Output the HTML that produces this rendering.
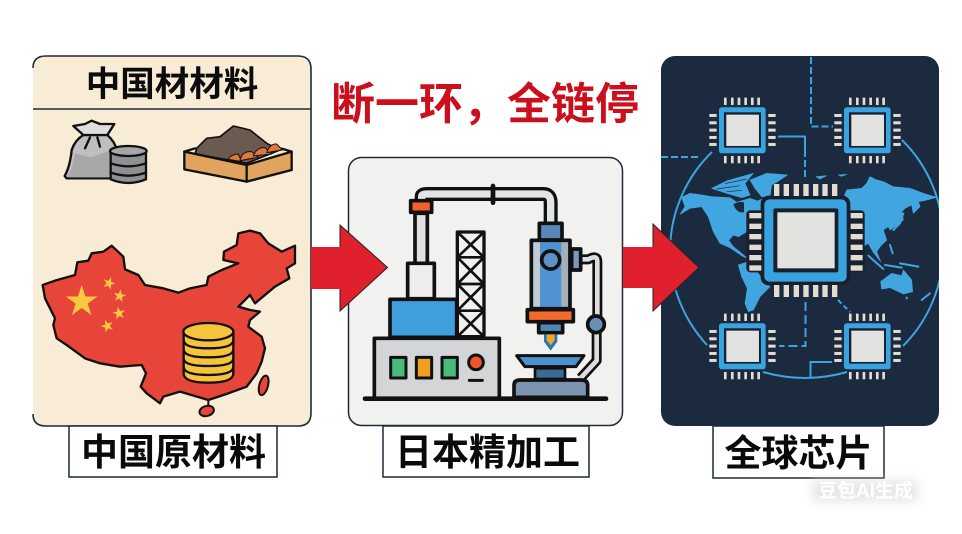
<!DOCTYPE html>
<html lang="zh"><head><meta charset="utf-8"><title>断一环,全链停</title>
<style>html,body{margin:0;padding:0;background:#fff}svg{display:block}
text{font-family:"Noto Sans CJK SC","Liberation Sans",sans-serif;font-weight:700;text-anchor:middle}
text.wm{font-family:"Liberation Sans","Noto Sans CJK SC",sans-serif}</style></head>
<body>
<svg xmlns="http://www.w3.org/2000/svg" width="962" height="534" viewBox="0 0 962 534">
<defs>
<clipPath id="p3"><rect x="661" y="56" width="278" height="370" rx="14"/></clipPath>
<filter id="soft" x="-30%" y="-60%" width="160%" height="220%"><feGaussianBlur stdDeviation="5"/></filter>
<polygon id="star" points="0,-1 .225,-.309 .951,-.309 .363,.118 .588,.809 0,.382 -.588,.809 -.363,.118 -.951,-.309 -.225,-.309"/>
<g id="chip">
<rect x="-70" y="-69" width="140" height="138" rx="8" fill="#39a3e0"/>
<rect x="-55" y="-54" width="111" height="106" fill="#16202e"/>
<rect x="-48" y="-47" width="98" height="94" fill="#e2e2e0"/>
<g fill="#e4ddcf">
<rect x="-55" y="-98" width="8" height="22"/><rect x="-34" y="-98" width="8" height="22"/><rect x="-14" y="-98" width="8" height="22"/><rect x="6" y="-98" width="8" height="22"/><rect x="26" y="-98" width="8" height="22"/><rect x="45" y="-98" width="8" height="22"/>
<rect x="-55" y="77" width="8" height="22"/><rect x="-34" y="77" width="8" height="22"/><rect x="-14" y="77" width="8" height="22"/><rect x="6" y="77" width="8" height="22"/><rect x="26" y="77" width="8" height="22"/><rect x="45" y="77" width="8" height="22"/>
<rect x="-99" y="-49" width="22" height="9"/><rect x="-99" y="-27" width="22" height="9"/><rect x="-99" y="-5" width="22" height="9"/><rect x="-99" y="17" width="22" height="9"/><rect x="-99" y="38" width="22" height="9"/>
<rect x="78" y="-49" width="22" height="9"/><rect x="78" y="-27" width="22" height="9"/><rect x="78" y="-5" width="22" height="9"/><rect x="78" y="17" width="22" height="9"/><rect x="78" y="38" width="22" height="9"/>
</g></g>
</defs>
<rect width="962" height="534" fill="#fff"/>

<!-- Panel 1 -->
<rect x="33" y="56" width="278" height="370" rx="13" fill="#f9ecd6"/>
<path d="M33,68 Q33,56 46,56 H298 Q311,56 311,69 V413 Q311,426 298,426 H46 Q33,426 33,414" fill="none" stroke="#1d2a3a" stroke-width="1.6"/>
<line x1="33" y1="109" x2="311" y2="109" stroke="#1d2a3a" stroke-width="1.6"/>
<text x="172" y="96" font-size="34.500" fill="#0c0c0c">中国材材料</text>

<g transform="translate(20,50) scale(.33333)" stroke="#111" stroke-width="7" stroke-linejoin="round" stroke-linecap="round">
<path d="M190,255 Q165,270 155,300 Q150,350 134,378 L140,385 H280 L290,300 Q285,275 262,255 Z" fill="#bfbfc2"/>
<path d="M165,310 L212,322 L275,300 L275,382 H142 Q160,350 165,310 Z" fill="#a8a8ab" stroke="none"/>
<path d="M160,228 L195,222 L215,212 L240,222 L283,222 L262,255 L190,255 Z" fill="#dedee0"/>
<path d="M195,295 L210,262 M240,290 L232,262" fill="none"/>
<path d="M272,303 V388 Q325,410 378,388 V303 Z" fill="#8f9092"/>
<ellipse cx="325" cy="303" rx="55" ry="15" fill="#a5a6a8"/>
<path d="M272,340 Q325,358 378,340 M272,368 Q325,386 378,368" fill="none"/>
<path d="M525,312 L530,295 L560,265 L600,260 L640,228 L690,240 L740,280 L780,300 L680,340 Z" fill="#6a5a50" stroke-width="5"/>
<g fill="#df7838" stroke-width="3">
<path d="M625,328 Q630,315 655,312 L665,335 Z"/>
<path d="M660,332 Q665,302 695,305 L715,322 Z"/>
<path d="M700,318 Q710,290 735,293 L755,312 Z"/>
<path d="M740,308 Q750,280 770,282 L787,300 Z"/>
</g>
<path d="M493,305 L680,345 V395 L493,358 Z" fill="#e0a45e"/>
<path d="M680,345 L815,305 V360 L680,395 Z" fill="#e0a45e"/>
<path d="M493,305 L525,295 M815,305 L785,296" fill="none"/>
</g>

<g transform="translate(20,230) scale(.33333)">
<path d="M68,165 L105,152 L165,135 L172,97 L205,92 L215,70 L250,65 L275,47 L310,80 L315,118 L355,135 L375,165 L430,175 L475,188 L510,175 L560,165 L565,140 L605,120 L655,100 L610,90 L612,65 L650,45 L655,10 L690,2 L720,10 L745,40 L785,65 L825,47 L825,100 L800,115 L808,145 L765,170 L705,220 L690,195 L655,230 L690,240 L720,245 L690,270 L685,290 L725,320 L735,355 L725,395 L710,430 L680,470 L625,490 L565,510 L480,485 L430,500 L420,520 L380,490 L362,470 L378,430 L365,405 L300,410 L240,400 L195,385 L140,345 L110,325 L100,285 L105,265 L75,205 Z" fill="#e8453a" stroke="#111" stroke-width="7" stroke-linejoin="round"/>
<ellipse cx="731" cy="466" rx="13" ry="30" transform="rotate(15 731 466)" fill="#e8453a" stroke="#111" stroke-width="6"/>
<ellipse cx="560" cy="543" rx="22" ry="15" transform="rotate(-15 560 543)" fill="#e8453a" stroke="#111" stroke-width="6"/>
<path d="M565,510 V525" stroke="#111" stroke-width="6"/>
<g fill="#f8c93c">
<use href="#star" transform="translate(185,215) scale(50)"/>
<use href="#star" transform="translate(267,160) rotate(20) scale(20)"/>
<use href="#star" transform="translate(299,198) rotate(10) scale(20)"/>
<use href="#star" transform="translate(297,250) rotate(-10) scale(20)"/>
<use href="#star" transform="translate(262,288) rotate(-20) scale(20)"/>
</g>
<g fill="#f7c23c" stroke="#111" stroke-width="7">
<path d="M491,305 V430 Q491,458 565,458 Q640,458 640,430 V305 Z"/>
<path d="M491,330 Q491,355 565,355 Q640,355 640,330 M491,358 Q491,382 565,382 Q640,382 640,358 M491,385 Q491,408 565,408 Q640,408 640,385 M491,410 Q491,435 565,435 Q640,435 640,410" fill="none"/>
<ellipse cx="565" cy="305" rx="75" ry="26"/>
</g>
</g>

<!-- Panel 2 -->
<rect x="348.500" y="157.500" width="274" height="268" rx="13" fill="#f1f2ef" stroke="#1d2a3a" stroke-width="1.500"/>
<g transform="translate(340,150) scale(.33333)" stroke="#111" stroke-width="11" stroke-linejoin="round">
<path d="M245,150 V140 Q245,132 260,132 H610 Q632,132 632,158 V225" fill="none" stroke="#111" stroke-width="42"/>
<path d="M245,150 V140 Q245,132 260,132 H610 Q632,132 632,158 V225" fill="none" stroke="#e3e4e6" stroke-width="22"/>
<path d="M459,108 V158" stroke-width="14" stroke-linecap="round"/>
<rect x="225" y="190" width="37" height="150" fill="#dfe0e1"/>
<rect x="212" y="152" width="63" height="35" fill="#f4602c"/>
<rect x="352" y="246" width="80" height="314" fill="none" stroke-width="10"/>
<path d="M352,322 H432 M352,402 H432 M352,482 H432 M352,246 L432,322 M432,246 L352,322 M352,322 L432,402 M432,322 L352,402 M352,402 L432,482 M432,402 L352,482 M352,482 L432,560 M432,482 L352,560" fill="none" stroke-width="8"/>
<rect x="203" y="340" width="80" height="106" fill="#eeeeec"/>
<rect x="150" y="448" width="200" height="114" fill="#3f9fdc"/>
<rect x="103" y="565" width="375" height="180" fill="#d4d5d7"/>
<rect x="152" y="622" width="46" height="62" fill="#4cb87a" stroke-width="9"/>
<rect x="229" y="622" width="46" height="62" fill="#f0a020" stroke-width="9"/>
<rect x="306" y="622" width="46" height="62" fill="#4cb87a" stroke-width="9"/>
<circle cx="408" cy="637" r="22" fill="#f0552d" stroke-width="9"/>
<path d="M388,691 H427" stroke-width="9" stroke-linecap="round"/>
<path d="M722,328 H745 Q772,313 772,335 V500 M770,548 V632 L722,684" fill="none" stroke="#111" stroke-width="30"/>
<path d="M722,328 H745 Q772,313 772,335 V500 M770,548 V632 L722,684" fill="none" stroke="#dcdee0" stroke-width="14"/>
<rect x="695" y="297" width="27" height="63" fill="#7b98ba"/>
<circle cx="768" cy="523" r="25" fill="#6b8eb5"/>
<rect x="598" y="220" width="68" height="50" fill="#5b87b8"/>
<rect x="574" y="271" width="116" height="205" fill="#4f93d0"/>
<rect x="580" y="277" width="20" height="193" fill="#c4cad2" stroke="none"/>
<rect x="664" y="277" width="20" height="193" fill="#a7afb8" stroke="none"/>
<circle cx="632" cy="330" r="27" fill="#5b93c8"/>
<rect x="562" y="479" width="138" height="36" fill="#f46a2c"/>
<rect x="596" y="518" width="72" height="30" fill="#4f86b8"/>
<path d="M612,553 H652 V575 L632,602 L612,575 Z" fill="#1f78b8" stroke="none"/>
<path d="M620,553 H644 V570 L632,586 L620,570 Z" fill="#f5a623" stroke="none"/>
<path d="M530,617 H732 L708,650 H555 Z" fill="#4b90cf" stroke-width="9"/>
<rect x="585" y="655" width="90" height="32" fill="#3c6a94" stroke-width="8"/>
<path d="M522,742 V706 Q522,690 540,690 H725 Q743,690 743,706 V742 Z" fill="#7b93ad"/>
<path d="M75,746 H798" stroke-width="14" stroke-linecap="round"/>
</g>

<!-- Panel 3 -->
<rect x="661" y="56" width="278" height="370" rx="14" fill="#1b2a3e"/>
<g clip-path="url(#p3)">
<g fill="none" stroke="#3aa6e0" stroke-width="2">
<path d="M712,152 A138,138 0 0 0 707,345"/>
<path d="M902,140 A138,138 0 0 1 943,240 A138,138 0 0 1 903,346"/>
<path d="M763,372 Q805,384 847,372"/>
<path d="M811,57 V126.500 H833" stroke-dasharray="7 3"/>
<path d="M778,136.500 H805 V150"/>
<path d="M805,150 V180" stroke-dasharray="7 3"/>
<path d="M661,157 H701" stroke-dasharray="7 3"/>
<path d="M805.500,302 V346 H779" stroke-dasharray="9 4"/>
<path d="M838,300 L850,312" stroke-dasharray="5 3"/>
<path d="M832,362 H810.500 V377"/>
</g>
<g transform="translate(670,165) scale(.33333)" fill="#41a6e0" stroke="#41a6e0" stroke-width="2" stroke-linejoin="round">
<path d="M30,148 L45,125 L35,97 L60,85 L95,90 L125,95 L180,98 L200,112 L240,100 L262,108 L283,100 L283,145 L232,145 L230,200 L205,215 L190,210 L176,226 L190,245 L215,265 L232,280 L215,272 L180,248 L150,235 L130,200 L115,155 L95,125 L60,130 Z"/>
<path d="M240,45 L290,25 L352,30 L322,50 L305,60 L300,95 L275,95 L255,70 Z"/>
<path d="M125,70 L170,48 L250,25 L225,55 L240,90 L215,98 L170,85 Z"/>
<path d="M205,300 L235,290 L285,350 L300,365 L270,395 L250,435 L235,440 L225,415 L232,370 L215,335 Z"/>
<path d="M520,100 L530,75 L575,70 L590,55 L600,35 L620,45 L640,50 L670,65 L720,70 L760,85 L800,97 L770,105 L745,110 L750,125 L730,145 L725,120 L705,130 L695,140 L700,165 L680,180 L660,195 L655,185 L640,195 L650,225 L630,245 L620,260 L632,290 L610,262 L595,235 L578,245 L540,240 L520,180 Z"/>
<path d="M632,350 L665,325 L695,332 L700,315 L725,345 L728,380 L700,387 L660,368 L635,372 Z"/>
<path d="M438,35 L470,32 L450,42 Z M505,30 L530,28 L515,34 Z"/>
<path d="M190,118 Q205,108 222,112 L222,142 Q200,145 190,118 Z" fill="#1b2a3e" stroke="none"/>
<g fill="none" stroke="#41a6e0" stroke-width="6" stroke-linecap="round">
<path d="M670,195 L690,175 L700,145"/><path d="M595,272 L640,312"/><path d="M645,300 L695,308"/><path d="M660,240 L668,265 M690,295 L745,305"/><path d="M755,405 L780,385"/><path d="M710,398 V400"/>
</g>
<g fill="none" stroke="#1b2a3e" stroke-width="2"><path d="M140,72 L210,62 M165,56 L230,42 M170,80 L215,76"/></g>
</g>
<use href="#chip" transform="translate(742.300,130.300) scale(.33333)"/>
<use href="#chip" transform="translate(867.300,130.300) scale(.33333)"/>
<use href="#chip" transform="translate(742.300,346.300) scale(.33333)"/>
<use href="#chip" transform="translate(867.300,346.300) scale(.33333)"/>
<g transform="translate(670,165) scale(.33333)">
<rect x="272" y="92" width="269" height="269" rx="24" fill="#16202e"/>
<rect x="229" y="136" width="60" height="186" rx="12" fill="#16202e"/>
<rect x="524" y="136" width="60" height="186" rx="12" fill="#16202e"/>
<g fill="#e4ddcf">
<rect x="312" y="57" width="16" height="36"/><rect x="341" y="57" width="16" height="36"/><rect x="371" y="57" width="16" height="36"/><rect x="400" y="57" width="16" height="36"/><rect x="429" y="57" width="16" height="36"/><rect x="457" y="57" width="16" height="36"/><rect x="486" y="57" width="16" height="36"/>
<rect x="312" y="360" width="16" height="36"/><rect x="341" y="360" width="16" height="36"/><rect x="371" y="360" width="16" height="36"/><rect x="400" y="360" width="16" height="36"/><rect x="429" y="360" width="16" height="36"/><rect x="457" y="360" width="16" height="36"/><rect x="486" y="360" width="16" height="36"/>
<rect x="238" y="144" width="36" height="16"/><rect x="238" y="176" width="36" height="16"/><rect x="238" y="207" width="36" height="16"/><rect x="238" y="239" width="36" height="16"/><rect x="238" y="270" width="36" height="16"/><rect x="238" y="301" width="36" height="16"/>
<rect x="542" y="144" width="36" height="16"/><rect x="542" y="176" width="36" height="16"/><rect x="542" y="207" width="36" height="16"/><rect x="542" y="239" width="36" height="16"/><rect x="542" y="270" width="36" height="16"/><rect x="542" y="301" width="36" height="16"/>
</g>
<rect x="283" y="103" width="247" height="247" rx="16" fill="#39a3e0"/>
<rect x="310" y="130" width="195" height="192" rx="6" fill="#16202e"/>
<rect x="322" y="142" width="172" height="168" fill="#e2e2e0"/>
</g>
</g>

<!-- Arrows -->
<path d="M311,247 H340 V225 L387.500,267.500 L340,311 V289 H311 Z" fill="#e0202c"/>
<path d="M340,247 V225 L387.500,267.500 L340,311 V289" fill="none" stroke="#222" stroke-width="1"/>
<path d="M623,247 H653 V224 L699,267.500 L653,311 V288 H623 Z" fill="#e0202c"/>
<path d="M653,247 V224 L699,267.500 L653,311 V288" fill="none" stroke="#222" stroke-width="1"/>

<!-- Title -->
<text x="485" y="119" font-size="44" fill="#cc0f1c">断一环&#xFF0C;全链停</text>

<!-- Labels -->
<rect x="69" y="426" width="208" height="51" fill="#fff" stroke="#1d2a3a" stroke-width="1.500"/>
<text x="173.500" y="465" font-size="37" fill="#0a0a0a">中国原材料</text>
<rect x="383" y="426" width="206" height="51" fill="#fff" stroke="#1d2a3a" stroke-width="1.500"/>
<text x="487.500" y="465" font-size="37" fill="#0a0a0a">日本精加工</text>
<rect x="713" y="426" width="171" height="52" fill="#fff" stroke="#1d2a3a" stroke-width="1.500"/>
<text x="798.500" y="466" font-size="37" fill="#0a0a0a">全球芯片</text>

<!-- Watermark -->
<rect x="812" y="480" width="106" height="22" fill="#d8d8d8" opacity=".6" filter="url(#soft)"/>
<text class="wm" x="865.500" y="497" font-size="19" fill="#fff">豆包AI生成</text>
</svg>
</body></html>
